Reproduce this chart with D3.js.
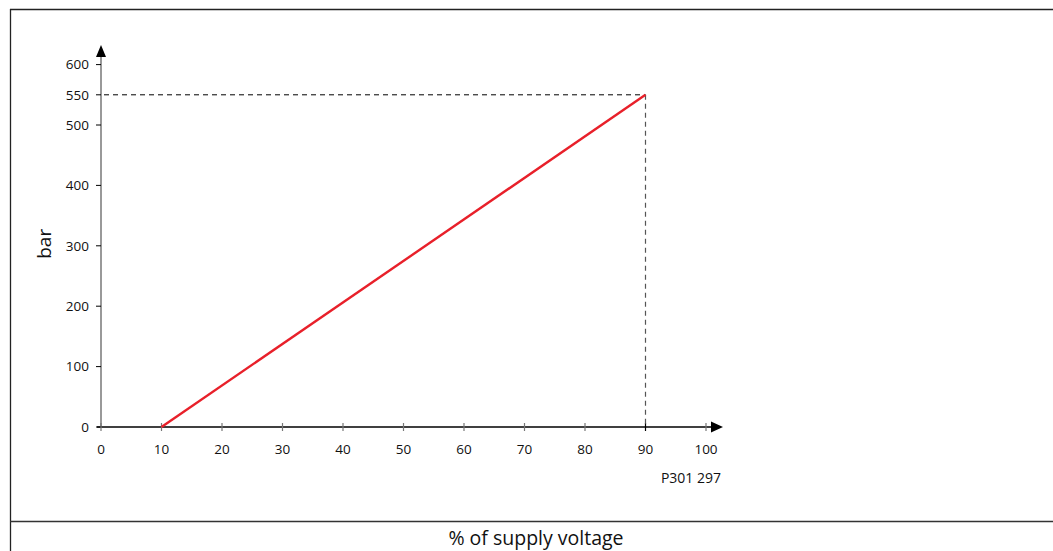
<!DOCTYPE html>
<html><head><meta charset="utf-8">
<script src="https://cdn.jsdelivr.net/npm/d3@7"></script>
<style>html,body{margin:0;padding:0;background:#fff;}svg{display:block;font-family:"Open Sans","Noto Sans",sans-serif;}</style>
</head><body>
<svg id="c" width="1053" height="551"></svg>
<script>
const xTicks = [0,10,20,30,40,50,60,70,80,90,100];
const yTicks = [0,100,200,300,400,500,550,600];
const linePct = [10, 90];
const lineBar = [0, 550];
const markerPoint = {pct: 90, bar: 550};
const yLabel = "bar";
const xLabel = "% of supply voltage";
const code = "P301 297";

const svg = d3.select("#c");
const x = d3.scaleLinear().domain([0,100]).range([101,706]);
const y = d3.scaleLinear().domain([0,600]).range([427,64.6]);

// frame
svg.append("line").attr("x1",10).attr("x2",1053).attr("y1",9.5).attr("y2",9.5).attr("stroke","#222").attr("stroke-width",1.3);
svg.append("line").attr("x1",10.5).attr("x2",10.5).attr("y1",9).attr("y2",551).attr("stroke","#222").attr("stroke-width",1.3);
svg.append("line").attr("x1",10).attr("x2",1053).attr("y1",521.5).attr("y2",521.5).attr("stroke","#333").attr("stroke-width",1.5);

// y axis line (gray)
svg.append("line").attr("x1",x(0)).attr("x2",x(0)).attr("y1",y(0)).attr("y2",56).attr("stroke","#777").attr("stroke-width",1.5);
svg.append("path").attr("d",`M${x(0)},45 L${x(0)-5},57 L${x(0)+5},57 Z`).attr("fill","#000");
// x axis line
svg.append("line").attr("x1",x(0)-4).attr("x2",712).attr("y1",y(0)).attr("y2",y(0)).attr("stroke","#000").attr("stroke-width",1.3);
svg.append("path").attr("d",`M723,${y(0)} L711,${y(0)-5.5} L711,${y(0)+5.5} Z`).attr("fill","#000");

// y ticks
const yg = svg.append("g");
yTicks.forEach(t=>{
  yg.append("line").attr("x1",x(0)-5).attr("x2",x(0)).attr("y1",y(t)).attr("y2",y(t)).attr("stroke","#000").attr("stroke-width",1);
  yg.append("text").attr("x",x(0)-12).attr("y",y(t)).attr("dy","0.35em").attr("text-anchor","end").attr("font-size",13.5).attr("fill","#111").text(t);
});
// x ticks
const xg = svg.append("g");
xTicks.forEach(t=>{
  xg.append("line").attr("x1",x(t)).attr("x2",x(t)).attr("y1",y(0)-4).attr("y2",y(0)+4).attr("stroke", t===90?"#000":"#777").attr("stroke-width",1.2);
  xg.append("text").attr("x",x(t)).attr("y",y(0)+27).attr("text-anchor","middle").attr("font-size",13.5).attr("fill","#111").text(t);
});

// dashed guides
svg.append("line").attr("x1",x(0)+3).attr("x2",x(markerPoint.pct)).attr("y1",y(markerPoint.bar)).attr("y2",y(markerPoint.bar)).attr("stroke","#000").attr("stroke-width",1).attr("stroke-dasharray","5,4");
svg.append("line").attr("x1",x(markerPoint.pct)).attr("x2",x(markerPoint.pct)).attr("y1",y(markerPoint.bar)).attr("y2",y(0)).attr("stroke","#555").attr("stroke-width",1.2).attr("stroke-dasharray","5,4");

// red line
const pts = linePct.map((p,i)=>[p,lineBar[i]]);
svg.append("path").datum(pts).attr("d",d3.line().x(d=>x(d[0])).y(d=>y(d[1]))).attr("fill","none").attr("stroke","#e8202a").attr("stroke-width",2.4);

// labels
svg.append("text").attr("transform",`translate(51,${y(300)-2}) rotate(-90)`).attr("text-anchor","middle").attr("font-size",19).attr("fill","#111").text(yLabel);
svg.append("text").attr("x",721).attr("y",483).attr("text-anchor","end").attr("font-size",14).attr("fill","#111").text(code);
svg.append("text").attr("x",536).attr("y",545).attr("text-anchor","middle").attr("font-size",19.5).attr("fill","#111").text(xLabel);
</script>
</body></html>
